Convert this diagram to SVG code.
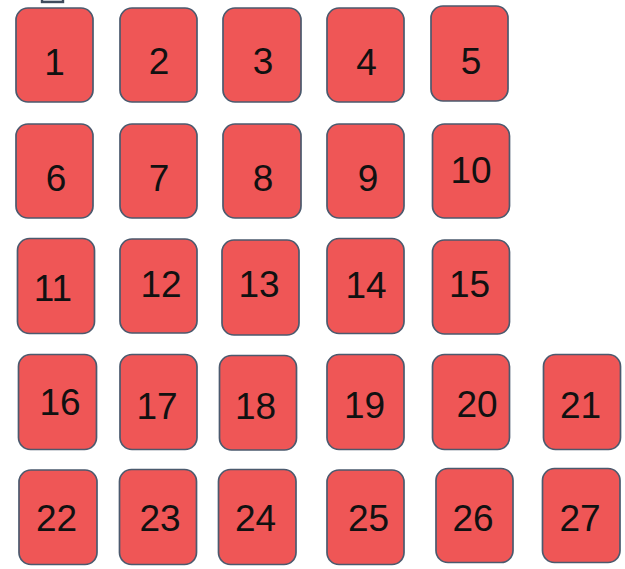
<svg xmlns="http://www.w3.org/2000/svg" width="625" height="569" viewBox="0 0 625 569">
<style>
.b{fill:#ef5656;stroke:#4b5a6e;stroke-width:1.7}
text{font-family:"Liberation Sans",Arial,sans-serif;font-size:37px;fill:#111;text-anchor:middle}
</style>
<rect x="0" y="0" width="625" height="569" fill="#ffffff"/>
<rect x="42" y="-10" width="21" height="12" fill="#e4e7eb" stroke="#3f4c5e" stroke-width="2.4"/>
<g id="n1"><rect class="b" x="16" y="8" width="77" height="94" rx="12"/><text x="54.5" y="75">1</text></g>
<g id="n2"><rect class="b" x="120" y="8" width="77" height="94" rx="12"/><text x="159" y="73.5">2</text></g>
<g id="n3"><rect class="b" x="223" y="8" width="78" height="94" rx="12"/><text x="263" y="74">3</text></g>
<g id="n4"><rect class="b" x="327" y="8" width="77" height="94" rx="12"/><text x="366.5" y="75">4</text></g>
<g id="n5"><rect class="b" x="431" y="6" width="77" height="95" rx="12"/><text x="471" y="74">5</text></g>
<g id="n6"><rect class="b" x="16" y="124" width="77" height="94" rx="12"/><text x="56" y="191">6</text></g>
<g id="n7"><rect class="b" x="120" y="124" width="77" height="94" rx="12"/><text x="159" y="191">7</text></g>
<g id="n8"><rect class="b" x="223" y="124" width="78" height="94" rx="12"/><text x="263" y="191">8</text></g>
<g id="n9"><rect class="b" x="327" y="124" width="77" height="94" rx="12"/><text x="368" y="191">9</text></g>
<g id="n10"><rect class="b" x="432.5" y="124" width="77" height="94" rx="12"/><text x="471" y="183">10</text></g>
<g id="n11"><rect class="b" x="17.5" y="238.5" width="77" height="95" rx="12"/><text x="53" y="301">11</text></g>
<g id="n12"><rect class="b" x="120" y="239" width="77" height="94" rx="12"/><text x="161" y="297">12</text></g>
<g id="n13"><rect class="b" x="222" y="240" width="77" height="95" rx="12"/><text x="259" y="297">13</text></g>
<g id="n14"><rect class="b" x="327" y="238.5" width="77" height="95" rx="12"/><text x="366" y="298">14</text></g>
<g id="n15"><rect class="b" x="432.5" y="240" width="77" height="94" rx="12"/><text x="469.5" y="297">15</text></g>
<g id="n16"><rect class="b" x="18.5" y="354.5" width="78" height="95" rx="12"/><text x="60" y="415">16</text></g>
<g id="n17"><rect class="b" x="120" y="354.5" width="77" height="95" rx="12"/><text x="157" y="418.5">17</text></g>
<g id="n18"><rect class="b" x="219.5" y="355.5" width="77" height="94.5" rx="12"/><text x="255.5" y="418.5">18</text></g>
<g id="n19"><rect class="b" x="327" y="354.5" width="77" height="95" rx="12"/><text x="364.5" y="418">19</text></g>
<g id="n20"><rect class="b" x="432.5" y="354.5" width="77" height="95" rx="12"/><text x="477" y="417">20</text></g>
<g id="n21"><rect class="b" x="543.5" y="354.5" width="77" height="95" rx="12"/><text x="580.5" y="418">21</text></g>
<g id="n22"><rect class="b" x="19" y="470" width="78" height="94.5" rx="12"/><text x="56.5" y="531">22</text></g>
<g id="n23"><rect class="b" x="119.5" y="469.5" width="77" height="95" rx="12"/><text x="160" y="531">23</text></g>
<g id="n24"><rect class="b" x="218.5" y="469.5" width="77.5" height="95" rx="12"/><text x="255.5" y="531">24</text></g>
<g id="n25"><rect class="b" x="327" y="470" width="77" height="94.5" rx="12"/><text x="368.5" y="531">25</text></g>
<g id="n26"><rect class="b" x="436" y="468.5" width="77" height="94" rx="12"/><text x="473" y="531">26</text></g>
<g id="n27"><rect class="b" x="542.5" y="468.5" width="77.5" height="94" rx="12"/><text x="580" y="531">27</text></g>
<g id="connectors"></g>
</svg>
